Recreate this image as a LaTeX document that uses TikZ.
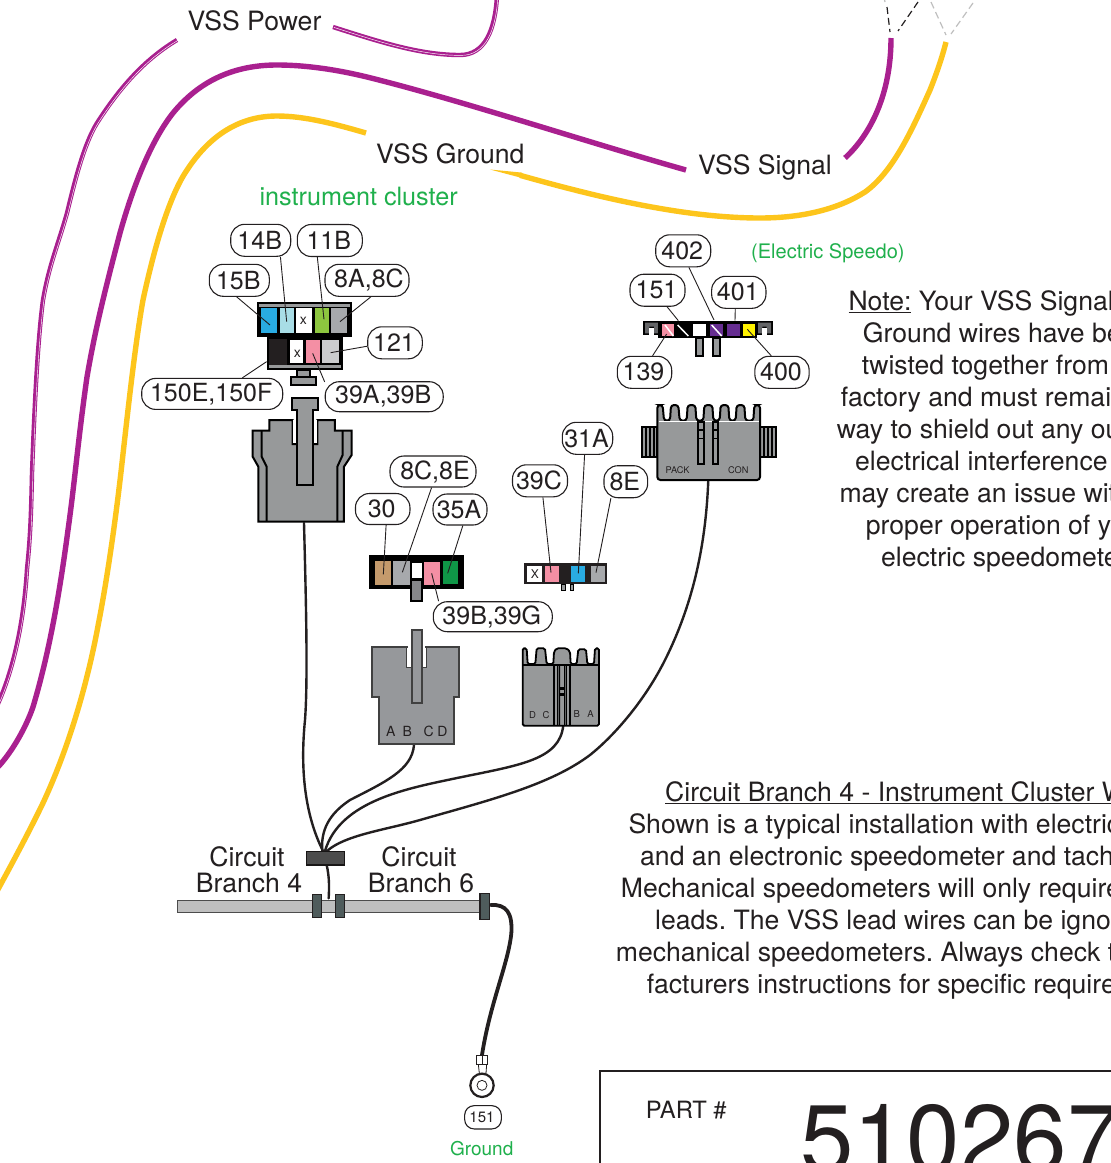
\documentclass[tikz,border=0pt]{standalone}
\usepackage{fontspec}
\setmainfont{TeX Gyre Heros}
\usetikzlibrary{calc}
\definecolor{ink}{HTML}{231F20}
\definecolor{vpurple}{HTML}{A9208F}
\definecolor{vyellow}{HTML}{FDC51C}
\definecolor{vgreen}{HTML}{1FB04C}
\definecolor{body}{HTML}{97999A}
\definecolor{cblue}{HTML}{29ABE2}
\definecolor{clblue}{HTML}{A8DDE6}
\definecolor{clime}{HTML}{8DC63F}
\definecolor{cgray}{HTML}{A7A9AC}
\definecolor{clgray}{HTML}{CBCCCE}
\definecolor{cpink}{HTML}{F48FA4}
\definecolor{ctan}{HTML}{C49A6C}
\definecolor{cgreen}{HTML}{0F9647}
\definecolor{cpurp}{HTML}{662D91}
\definecolor{cyell}{HTML}{FFF200}
\definecolor{clamp}{HTML}{4F5C5C}
\newcommand{\fs}[1]{\fontsize{#1}{#1}\selectfont}
\newcommand{\myul}[1]{\vtop{\hbox{#1}\kern1.6pt\hrule height 1.3pt}}
\frenchspacing
\tikzset{
 pill/.style={draw=ink,line width=1.1pt,fill=white,rounded corners=14pt,inner sep=0pt,minimum height=32pt,text=ink,font=\fs{25},execute at end node=\kern2pt},
 pillr/.style={pill,execute at end node={},execute at begin node=\kern6pt},
 leader/.style={draw=ink,line width=.9pt},
 txt/.style={anchor=base west,inner sep=0pt,text=ink,font=\fs{26.6}},
 gtxt/.style={anchor=base west,inner sep=0pt,text=vgreen},
 thinwire/.style={draw=ink,line width=2.4pt,line cap=round},
 zA/.style={shift={(140,220)},x=.33333pt,y=-.33333pt},
 zB/.style={shift={(510,230)},x=.33333pt,y=-.33333pt},
 zC/.style={shift={(350,540)},x=.33333pt,y=-.33333pt},
 zD/.style={shift={(170,830)},x=.33333pt,y=-.33333pt},
 blk/.style={draw=black,line width=1.7pt,fill=body,line join=miter},
 twin/.style={line width=4.4pt,draw=vpurple},
 twinc/.style={line width=.45pt,draw=white,xshift=.9pt,yshift=-.4pt},
 fat/.style={line width=5.4pt,draw=vpurple},
 fatg/.style={line width=5.4pt,draw=vyellow},
 dblk/.style={draw=ink,line width=1.2pt,dash pattern=on 7pt off 4pt},
 dgry/.style={draw=black!25,line width=1.2pt,dash pattern=on 7pt off 4pt},
}
\begin{document}
\begin{tikzpicture}[x=1pt,y=-1pt]
\useasboundingbox (0,0) rectangle (1111,1163);
\clip (0,0) rectangle (1111,1163);
\fill[white] (0,0) rectangle (1111,1163);

% --- VSS wires
\def\powA{(177,40) .. controls (140,62) and (115,95) .. (97,123) .. controls (84,144) and (75,180) .. (67,213) .. controls (58,245) and (49,265) .. (43,300) .. controls (37,345) and (34,420) .. (32,473) .. controls (31,520) and (30,540) .. (27,569) .. controls (24,620) and (14,670) .. (-4,708)}
\def\powB{(333,27) .. controls (380,42) and (420,55) .. (460,55) .. controls (485,55) and (495,30) .. (497,-4)}
\draw[twin] \powA;
\draw[twinc] \powA;
\draw[twin] \powB;
\draw[twinc] \powB;
\draw[fat] (686,170) .. controls (580,140) and (460,100) .. (367,77) .. controls (330,68) and (300,65) .. (277,65) .. controls (235,65) and (200,80) .. (173,113) .. controls (150,142) and (132,190) .. (120,233) .. controls (105,290) and (95,330) .. (87,377) .. controls (78,440) and (75,480) .. (68,530) .. controls (60,590) and (50,650) .. (33,707) .. controls (25,730) and (10,755) .. (-4,769);
\draw[fat] (845,158) .. controls (870,135) and (891,95) .. (891,38);
\draw[fatg] (366,133) .. controls (335,124) and (305,116) .. (277,116) .. controls (240,116) and (210,135) .. (187,170) .. controls (172,192) and (157,235) .. (143,300) .. controls (135,345) and (128,410) .. (123,454) .. controls (117,510) and (108,575) .. (98,626) .. controls (88,680) and (70,745) .. (43,803) .. controls (30,830) and (14,860) .. (-4,893);
\fill[vyellow] (490,169.5) -- (522,172.6) -- (522,178) -- cycle;
\draw[fatg] (520,175.3) .. controls (590,195) and (680,218) .. (760,218) .. controls (805,218) and (840,208) .. (865,192) .. controls (893,172) and (912,130) .. (930,90) .. controls (936,75) and (942,58) .. (946,42);
% dashes
\draw[dblk] (887,7) -- (890,32);
\draw[dblk] (918,2) -- (898,31);
\draw[dgry] (931,2) -- (946,35);
\draw[dgry] (973,3) -- (951,34);
\draw[dgry] (884,-3) -- (885,2);

% --- wire labels
\node[txt] (tPower) at (187.3,30) {VSS Power};
\node[txt] (tGround) at (376,163.4) {VSS Ground};
\node[txt] (tSignal) at (698,174.5) {VSS Signal};
\node[gtxt,font=\fs{25.2}] (tCluster) at (259.3,205) {instrument cluster};
\node[gtxt,font=\fs{20}] (tSpeedo) at (751,258) {(Electric Speedo)};

% --- wires to block
\coordinate (wA) at (304,523);
\coordinate (wB) at (414,745);
\coordinate (wC) at (563.3,725);
\coordinate (wD) at (708.3,480);
\coordinate (hub) at (325,851);
\draw[thinwire] (wA) .. controls (306,600) and (308,680) .. (305,720) .. controls (300,770) and (305,815) .. (323,851);
\draw[thinwire] (wB) .. controls (412,770) and (385,782) .. (350,800) .. controls (335,810) and (320,825) .. (322.3,851);
\draw[thinwire] (wC) .. controls (560,760) and (520,765) .. (457,778) .. controls (410,788) and (340,800) .. (hub);
\draw[thinwire] (wD) .. controls (706,540) and (695,600) .. (665,660) .. controls (645,700) and (615,735) .. (590,755) .. controls (550,785) and (490,800) .. (420,820) .. controls (385,830) and (345,835) .. (327,851);

% --- cluster connector (top)
\begin{scope}[zA]
 \fill[black] (352,245) rectangle (635,352);
 \fill[body] (358,251) rectangle (629,262);
 \fill[cblue] (363,265) rectangle (412,340);
 \fill[clblue] (420,265) rectangle (462,340);
 \fill[white] (469,265) rectangle (517,340);
 \fill[clime] (524,265) rectangle (567,340);
 \fill[cgray] (574,265) rectangle (622,340);
 \node[inner sep=0pt,font=\fs{14},text=ink] (xA) at (490,303) {x};
 \fill[black] (380,352) rectangle (608,450);
 \fill[ink] (386,356) rectangle (441,435);
 \fill[body] (386,436) rectangle (602,444);
 \fill[white] (450,360) rectangle (490,430);
 \fill[cpink] (497,360) rectangle (540,430);
 \fill[clgray] (547,360) rectangle (596,430);
 \node[inner sep=0pt,font=\fs{14},text=ink] (xB) at (472,400) {x};
 \draw[blk] (472,450) rectangle (510,470);
 \draw[blk] (452,472) rectangle (528,495);
 % big connector
 \draw[blk,line width=2pt,fill=body] (388,600) -- (458,600) -- (458,672) -- (532,672) -- (532,600) -- (585,600) -- (585,632) -- (635,632) -- (635,705) -- (612,740) -- (612,905) -- (355,905) -- (355,740) -- (338,710) -- (338,632) -- (388,632) -- cycle;
 \fill[white] (459,600) rectangle (470,670);
 \fill[white] (520,600) rectangle (531,670);
 \draw[black,line width=2pt] (365,632) -- (365,710) -- (380,740) -- (380,905);
 \draw[black,line width=2pt] (608,632) -- (608,705) -- (592,740) -- (592,905);
 \draw[blk,line width=2pt] (455,535) -- (535,535) -- (535,570) -- (520,570) -- (520,795) -- (472,795) -- (472,570) -- (455,570) -- cycle;
 \coordinate (p15B) at (390,315);
 \coordinate (p14B) at (440,305);
 \coordinate (p11B) at (552,298);
 \coordinate (p8A) at (600,305);
 \coordinate (p121) at (572,398);
 \coordinate (p150) at (380,425);
 \coordinate (p39A) at (518,400);
\end{scope}

% --- speedo connector (top right), PACK connector, 3-way
\begin{scope}[zB]
 \fill[black] (400,272) rectangle (450,315);
 \fill[cgray!60!black] (405,278) rectangle (445,290) (405,290) rectangle (418,310) (432,290) rectangle (445,310);
 \fill[white] (418,293) rectangle (432,315);
 \fill[black] (738,272) rectangle (788,315);
 \fill[cgray!60!black] (744,278) rectangle (783,290) (744,290) rectangle (757,310) (770,290) rectangle (783,310);
 \fill[white] (757,293) rectangle (770,315);
 \fill[black] (445,272) rectangle (742,325);
 \fill[cpink] (455,282) rectangle (492,318);
 \draw[white,line width=1.5pt] (465,285) -- (490,318);
 \draw[white,line width=1.5pt] (503,285) -- (535,318);
 \fill[white] (550,282) rectangle (588,318);
 \fill[cpurp] (600,282) rectangle (638,318);
 \draw[white,line width=1.5pt] (605,285) -- (635,318);
 \fill[cpurp] (652,282) rectangle (690,318);
 \fill[cyell] (698,282) rectangle (735,318);
 \draw[blk] (557,325) rectangle (578,378);
 \draw[blk] (609,325) rectangle (630,378);
 % PACK connector: side ribs
 \draw[blk] (395,592) rectangle (442,682);
 \draw[black,line width=1.2pt] (408,592) -- (408,682) (420,592) -- (420,682) (432,592) -- (432,682);
 \draw[blk] (750,592) rectangle (798,682);
 \draw[black,line width=1.2pt] (762,592) -- (762,682) (774,592) -- (774,682) (786,592) -- (786,682);
 \draw[blk,line width=2pt,rounded corners=3pt] (442,750) -- (442,525) -- (458,525) -- (462,572) -- (480,572) -- (483,525) -- (505,525) -- (509,572) -- (530,572) -- (533,525) -- (556,525) -- (559,572) -- (580,572) -- (583,525) -- (607,525) -- (610,572) -- (629,572) -- (632,525) -- (655,525) -- (658,572) -- (677,572) -- (680,525) -- (703,525) -- (706,572) -- (730,572) -- (733,525) -- (750,525) -- (750,750) -- cycle;
 \draw[white,line width=.8pt] (446,575) -- (746,575);
 \draw[blk] (565,575) rectangle (582,702);
 \draw[blk] (608,575) rectangle (625,702);
 \draw[black,line width=1.3pt] (565,600) -- (582,600) (565,625) -- (582,625) (608,600) -- (625,600) (608,625) -- (625,625);
 \node[inner sep=0pt,font=\fs{9.2},text=ink] (tPack) at (503,720) {PACK};
 \node[inner sep=0pt,font=\fs{9.2},text=ink] (tCon) at (685,720) {CON};
 \coordinate (p402) at (612,270);
 \coordinate (p151) at (505,272);
 \coordinate (p401) at (675,272);
 \coordinate (p139) at (470,312);
 \coordinate (p400) at (712,298);
 \coordinate (p39C) at (123,1028);
 \coordinate (p31A) at (205,1030);
 \coordinate (p8E) at (258,1028);
\end{scope}

% --- middle connectors
\begin{scope}[zC]
 \fill[black] (57,45) rectangle (342,148);
 \fill[ctan] (75,63) rectangle (122,135);
 \fill[cgray] (128,63) rectangle (180,135);
 \fill[white] (187,68) rectangle (215,115);
 \fill[cpink] (222,65) rectangle (270,135);
 \fill[cgreen] (278,62) rectangle (325,132);
 \draw[blk,line width=2pt,fill=cgray!80!black] (183,120) rectangle (215,182);
 % ABCD connector
 \draw[draw=black!75,line width=2pt,fill=cgray!90!black] (65,322) -- (170,322) -- (170,382) -- (228,382) -- (228,322) -- (328,322) -- (328,470) -- (312,470) -- (312,612) -- (88,612) -- (88,470) -- (65,470) -- cycle;
 \draw[draw=black!75,line width=2pt,fill=cgray!90!black] (185,270) rectangle (217,490);
 \fill[white] (172,323) rectangle (183,380);
 \fill[white] (218,323) rectangle (227,380);
 \node[inner sep=0pt,font=\fs{14},text=ink] (tA) at (122,575) {A};
 \node[inner sep=0pt,font=\fs{14},text=ink] (tB) at (172,575) {B};
 \node[inner sep=0pt,font=\fs{14},text=ink] (tC) at (236,575) {C};
 \node[inner sep=0pt,font=\fs{14},text=ink] (tD) at (277,575) {D};
 % small 4-way
 \fill[ink] (523,70) rectangle (772,133);
 \fill[white] (532,78) rectangle (576,125);
 \fill[cpink] (584,78) rectangle (627,125);
 \fill[cblue] (663,78) rectangle (706,125);
 \fill[cgray] (722,78) rectangle (765,125);
 \node[inner sep=0pt,font=\fs{12},text=ink] (tX) at (555,101) {X};
 \draw[blk,line width=1pt] (634,133) rectangle (645,150);
 \draw[blk,line width=1pt] (660,133) rectangle (671,150);
 % DCBA connector
 \draw[blk,fill=body,line width=1.8pt,rounded corners=1.5pt] (518,557) -- (518,325) -- (530,325) -- (533,372) -- (556,372) -- (560,325) -- (585,325) -- (590,372) -- (610,372) -- (612,335) -- (620,325) -- (650,325) -- (660,335) -- (662,372) -- (680,372) -- (685,328) -- (708,328) -- (712,372) -- (732,372) -- (735,325) -- (747,325) -- (747,557) -- cycle;
 \draw[black,line width=1.2pt] (518,375) -- (747,375);
 \draw[black,line width=1.5pt] (612,375) -- (612,557) (622,375) -- (622,557) (650,375) -- (650,557) (660,375) -- (660,557);
 \fill[black] (626,375) rectangle (630,557) (642,375) rectangle (646,557);
 \fill[black] (626,440) rectangle (646,450);
 \fill[black] (626,458) rectangle (646,468);
 \node[inner sep=0pt,font=\fs{9.5},text=ink] (td) at (548,524) {D};
 \node[inner sep=0pt,font=\fs{9.5},text=ink] (tc) at (588,524) {C};
 \node[inner sep=0pt,font=\fs{9.5},text=ink] (tb) at (680,521) {B};
 \node[inner sep=0pt,font=\fs{9.5},text=ink] (ta) at (722,521) {A};
 \coordinate (p30) at (100,103);
 \coordinate (p8C) at (157,97);
 \coordinate (p35A) at (293,100);
 \coordinate (p39B) at (245,100);
\end{scope}

% --- branch bar
\begin{scope}[zD]
 \draw[line width=3.8pt,draw=ink,line cap=round] (962,225) .. controls (1010,222) and (1028,250) .. (1024,310) .. controls (1015,400) and (960,520) .. (936,675);
 \draw[draw=black!70,line width=1.2pt,fill=black!25] (22,212) rectangle (940,247);
 \draw[draw=ink,line width=1.6pt,fill=clamp] (427,194) rectangle (455,263);
 \draw[draw=ink,line width=1.6pt,fill=clamp] (496,194) rectangle (524,263);
 \draw[draw=ink,line width=1.6pt,fill=clamp] (930,191) rectangle (958,268);
 \draw[thinwire] (470,105) .. controls (478,140) and (478,170) .. (476,205);
 \draw[draw=ink!70!black,line width=1.6pt,fill=black!70] (410,64) rectangle (523,105);
 \draw[draw=ink,line width=.8pt,fill=white] (925,703) -- (950,703) -- (948,730) -- (928,730) -- cycle;
 \draw[draw=ink,line width=.8pt,fill=white] (920,677) rectangle (953,703);
 \draw[draw=ink,line width=.8pt] (936,677) -- (936,703);
 \draw[draw=ink,line width=2.2pt,fill=white] (936,766) circle (35);
 \draw[draw=ink,line width=.8pt] (936,766) circle (15);
\end{scope}
\node[txt,anchor=base] (c1a) at (247,866) {Circuit};
\node[txt,anchor=base] (c1b) at (249,892) {Branch 4};
\node[txt,anchor=base] (c2a) at (419,866) {Circuit};
\node[txt,anchor=base] (c2b) at (421,892) {Branch 6};
\node[pill,font=\fs{15},minimum width=36.7pt,minimum height=23.3pt,rounded corners=9.5pt,execute at end node={}] (l151b) at (483,1117.3) {151};
\node[gtxt,font=\fs{19},anchor=base] (tGnd) at (481.7,1155) {Ground};

% --- pills
\node[pill,minimum width=60pt] (l14B) at (260.7,240.3) {14B};
\node[pill,minimum width=65pt] (l11B) at (329.8,240.5) {11B};
\node[pill,minimum width=60pt] (l15B) at (239.3,280.3) {15B};
\node[pillr,minimum width=84pt] (l8A) at (367,280.3) {8A,8C};
\node[pill,minimum width=54.6pt] (l121) at (395,342.8) {121};
\node[pill,minimum width=141pt,minimum height=31pt] (l150) at (212.2,393.9) {150E,150F};
\node[pill,minimum width=118pt,minimum height=30pt] (l39A) at (384.2,396.7) {39A,39B};
\node[pill,minimum width=55pt] (l402) at (683.2,250.8) {402};
\node[pill,minimum width=55pt] (l151) at (657.5,290.2) {151};
\node[pill,minimum width=54.3pt] (l401) at (738.8,292.3) {401};
\node[pill,minimum width=54.4pt] (l139) at (644.5,372.3) {139};
\node[pill,minimum width=54.3pt] (l400) at (782,372.3) {400};
\node[pill,minimum width=50.4pt] (l31A) at (587.5,438.3) {31A};
\node[pill,minimum width=55pt] (l39C) at (540,480.8) {39C};
\node[pill,minimum width=43.7pt] (l8E) at (625.8,481.7) {8E};
\node[pillr,minimum width=86pt,minimum height=31pt] (l8C) at (433,471.5) {8C,8E};
\node[pill,minimum width=54.5pt,minimum height=31pt] (l30) at (382.7,509) {30};
\node[pill,minimum width=54pt,minimum height=31pt] (l35A) at (460,509.5) {35A};
\node[pill,minimum width=119pt,minimum height=30pt] (l39B) at (492.8,616.7) {39B,39G};

\draw[leader] (l15B.261) -- (p15B);
\draw[leader] (l14B.320) -- (p14B);
\draw[leader] (l11B.233) -- (p11B);
\draw[leader] (l8A.283) -- (p8A);
\draw[leader] (l121.187) -- (p121);
\draw[leader] (l150.28) -- (p150);
\draw[leader] (l39A.166) -- (p39A);
\draw[leader] (l402.289) -- (p402);
\draw[leader] (l151.300) -- (p151);
\draw[leader] (l401.258) -- (p401);
\draw[leader] (l139.64) -- (p139);
\draw[leader] (l400.123) -- (p400);
\draw[leader] (l39C.280) -- (p39C);
\draw[leader] (l31A.260) -- (p31A);
\draw[leader] (l8E.228) -- (p8E);
\draw[leader] (l30.282) -- (p30);
\draw[leader] (l8C.265) -- (p8C);
\draw[leader] (l35A.280) -- (p35A);
\draw[leader] (l39B.164) -- (p39B);

% --- note text
\node[txt] (n1) at (848.3,310) {\myul{Note:} Your VSS Signal};
\node[txt] (n2) at (862.7,342) {Ground wires have be};
\node[txt] (n3) at (861.7,374) {twisted together from};
\node[txt] (n4) at (840.7,406) {factory and must remai};
\node[txt] (n5) at (836.7,438) {way to shield out any ou};
\node[txt] (n6) at (855,470) {electrical interference};
\node[txt] (n7) at (839.3,502) {may create an issue wit};
\node[txt] (n8) at (865.7,534) {proper operation of y};
\node[txt] (n9) at (881,566) {electric speedomete};

\node[txt] (b1) at (665,801) {\myul{Circuit Branch 4 - Instrument Cluster W}};
\node[txt] (b2) at (628.3,833) {Shown is a typical installation with electric};
\node[txt] (b3) at (640,865) {and an electronic speedometer and tach};
\node[txt] (b4) at (620.7,897) {Mechanical speedometers will only require};
\node[txt] (b5) at (655,929) {leads. The VSS lead wires can be igno};
\node[txt] (b6) at (615.7,961) {mechanical speedometers. Always check t};
\node[txt] (b7) at (646.7,993) {facturers instructions for specific require};

% --- part box
\draw[draw=ink,line width=2pt] (600,1170) -- (600,1071) -- (1120,1071);
\node[txt,font=\fs{23.8}] (tPart) at (645.7,1118.5) {PART \#};
\node[txt,font=\fs{96}] (tNum) at (800,1172) {510267};
\end{tikzpicture}
\end{document}
